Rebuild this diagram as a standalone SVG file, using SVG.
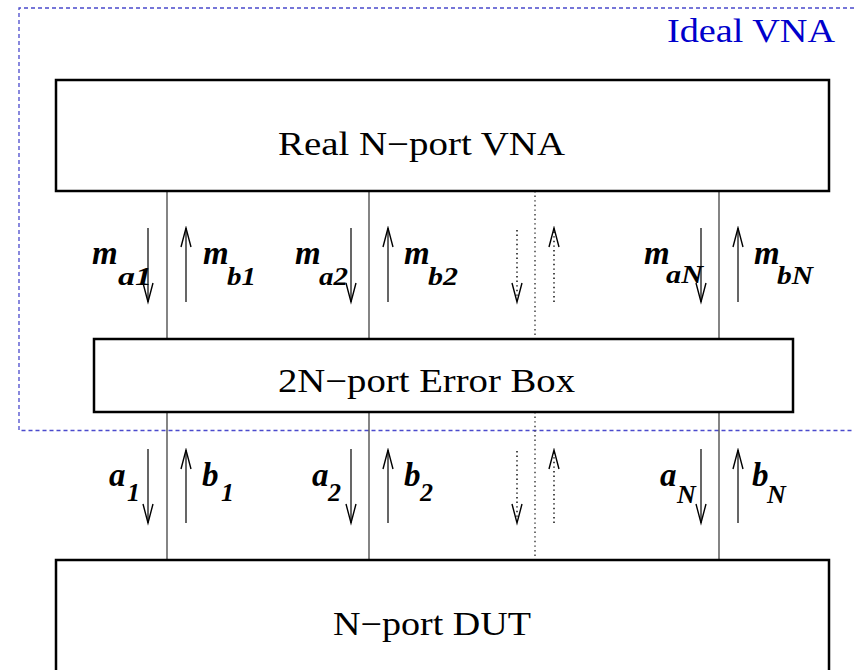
<svg xmlns="http://www.w3.org/2000/svg" width="854" height="670" viewBox="0 0 854 670">
<style>
.box{fill:#fff;stroke:#000;stroke-width:2.5}
.title{font-family:"Liberation Serif","Times New Roman",serif;font-size:33px;fill:#000}
.wire{stroke:#333;stroke-width:1.2;fill:none}
.dwire{stroke:#333;stroke-width:1.4;fill:none;stroke-dasharray:1.4,3.2}
.arr{stroke:#000;stroke-width:1.2;fill:none;marker-end:url(#head)}
.darr{stroke:#000;stroke-width:1.4;fill:none;stroke-dasharray:1.4,3.2;marker-end:url(#head)}
.lab{font-family:"Liberation Serif","Times New Roman",serif;font-weight:bold;font-style:italic;font-size:33px;fill:#000}
.sub{font-size:26px}
</style>
<defs>
<marker id="head" markerUnits="userSpaceOnUse" markerWidth="24" markerHeight="14" viewBox="-21 -7 23 14" refX="0" refY="0" orient="auto">
<path d="M -19 -5 L 0 0 L -19 5" fill="none" stroke="#000" stroke-width="1.4"/>
</marker>
</defs>
<rect width="854" height="670" fill="#fff"/>
<g id="ideal-vna">
<path d="M 854 8 H 19 V 430.5 H 854" fill="none" stroke="#4a4acc" stroke-width="1.3" stroke-dasharray="4,3"/>
<text x="667" y="42" class="title" style="font-size:34px;fill:#0000cc" textLength="168" lengthAdjust="spacingAndGlyphs">Ideal VNA</text>
</g>
<g id="connectors">
<line class="wire" x1="167" y1="191" x2="167" y2="339"/>
<line class="wire" x1="369" y1="191" x2="369" y2="339"/>
<line class="dwire" x1="535" y1="191" x2="535" y2="339"/>
<line class="wire" x1="719" y1="191" x2="719" y2="339"/>
<line class="wire" x1="167" y1="412" x2="167" y2="560"/>
<line class="wire" x1="369" y1="412" x2="369" y2="560"/>
<line class="dwire" x1="535" y1="412" x2="535" y2="560"/>
<line class="wire" x1="719" y1="412" x2="719" y2="560"/>
<line class="arr" x1="148" y1="228" x2="148" y2="302"/>
<line class="arr" x1="186" y1="302" x2="186" y2="228"/>
<line class="arr" x1="351" y1="228" x2="351" y2="302"/>
<line class="arr" x1="388" y1="302" x2="388" y2="228"/>
<line class="darr" x1="517" y1="230" x2="517" y2="302"/>
<line class="darr" x1="554" y1="302" x2="554" y2="228"/>
<line class="arr" x1="701" y1="228" x2="701" y2="302"/>
<line class="arr" x1="738" y1="302" x2="738" y2="228"/>
<line class="arr" x1="148" y1="449" x2="148" y2="523"/>
<line class="arr" x1="186" y1="523" x2="186" y2="450"/>
<line class="arr" x1="351" y1="449" x2="351" y2="523"/>
<line class="arr" x1="388" y1="523" x2="388" y2="450"/>
<line class="darr" x1="517" y1="451" x2="517" y2="523"/>
<line class="darr" x1="554" y1="523" x2="554" y2="450"/>
<line class="arr" x1="701" y1="449" x2="701" y2="523"/>
<line class="arr" x1="738" y1="523" x2="738" y2="450"/>
</g>
<g id="labels">
<text class="lab" x="92" y="264">m<tspan class="sub" x="118" y="285" textLength="34" lengthAdjust="spacingAndGlyphs">a1</tspan></text>
<text class="lab" x="203" y="264">m<tspan class="sub" x="227" y="285" textLength="29" lengthAdjust="spacingAndGlyphs">b1</tspan></text>
<text class="lab" x="295" y="264">m<tspan class="sub" x="319" y="285" textLength="29" lengthAdjust="spacingAndGlyphs">a2</tspan></text>
<text class="lab" x="404" y="264">m<tspan class="sub" x="428" y="285" textLength="30" lengthAdjust="spacingAndGlyphs">b2</tspan></text>
<text class="lab" x="644" y="264">m<tspan class="sub" x="666" y="283" textLength="37" lengthAdjust="spacingAndGlyphs">aN</tspan></text>
<text class="lab" x="754" y="264">m<tspan class="sub" x="777" y="284" textLength="36" lengthAdjust="spacingAndGlyphs">bN</tspan></text>
<text class="lab" x="109" y="486">a<tspan class="sub" x="127" y="501">1</tspan></text>
<text class="lab" x="202" y="486">b<tspan class="sub" x="221" y="501">1</tspan></text>
<text class="lab" x="312" y="486">a<tspan class="sub" x="328" y="501">2</tspan></text>
<text class="lab" x="404" y="486">b<tspan class="sub" x="420" y="501">2</tspan></text>
<text class="lab" x="660" y="486">a<tspan class="sub" x="677" y="503">N</tspan></text>
<text class="lab" x="752" y="486">b<tspan class="sub" x="767" y="503">N</tspan></text>
</g>
<g id="real-vna">
<rect class="box" x="56" y="80" width="773" height="111"/>
<text class="title" x="278" y="155" textLength="287" lengthAdjust="spacingAndGlyphs">Real N−port VNA</text>
</g>
<g id="error-box">
<rect class="box" x="94" y="339" width="699" height="73"/>
<text class="title" x="278" y="392" textLength="297" lengthAdjust="spacingAndGlyphs">2N−port Error Box</text>
</g>
<g id="dut">
<rect class="box" x="56" y="560" width="773" height="130"/>
<text class="title" x="333" y="635" textLength="198" lengthAdjust="spacingAndGlyphs">N−port DUT</text>
</g>
</svg>
